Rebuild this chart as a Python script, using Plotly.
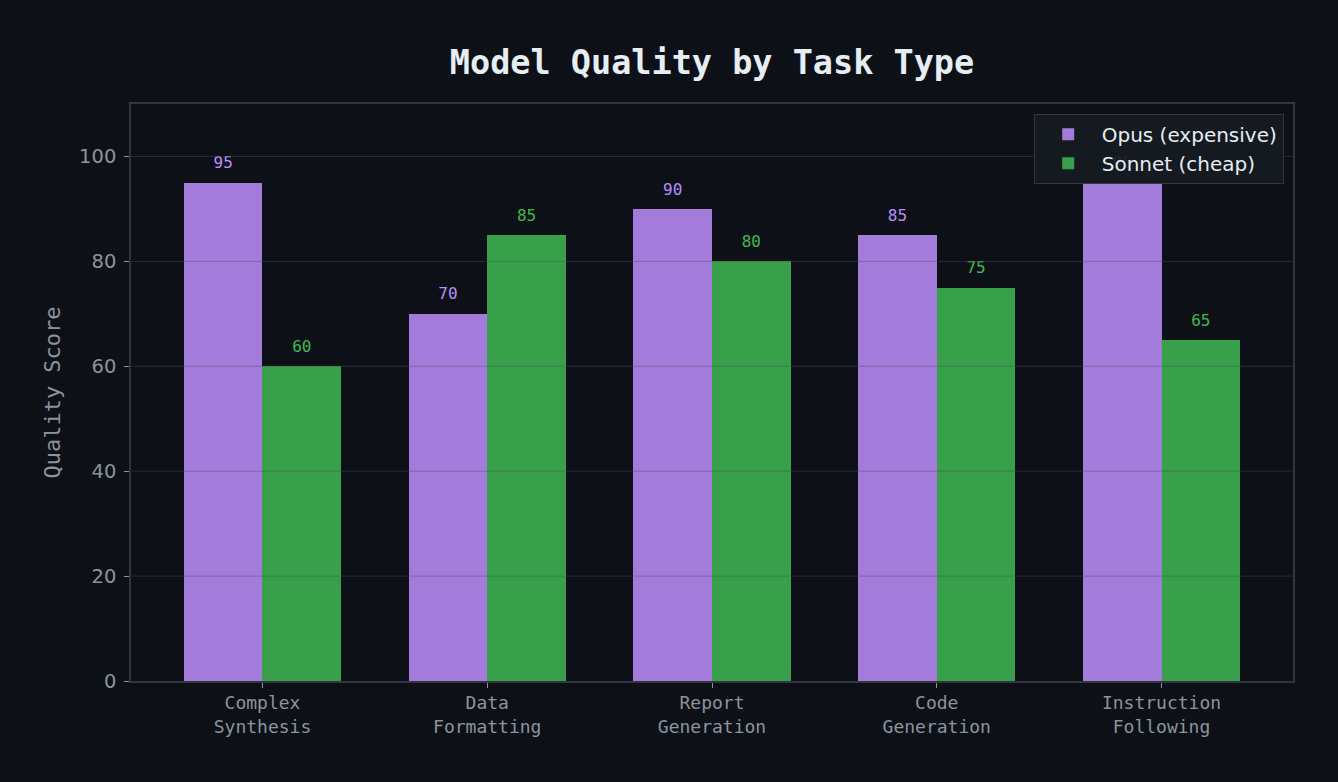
import plotly.graph_objects as go

categories = ["Complex<br>Synthesis", "Data<br>Formatting", "Report<br>Generation",
              "Code<br>Generation", "Instruction<br>Following"]
opus_scores = [95, 70, 90, 85, 95]
sonnet_scores = [60, 85, 80, 75, 65]
y_ticks = [0, 20, 40, 60, 80, 100]

BG = "#0d1117"
OPUS = "#a37cdb"
SONNET = "#38a04a"
OPUS_TXT = "#bc8cff"
SONNET_TXT = "#3fb950"
MONO = "DejaVu Sans Mono"
SANS = "DejaVu Sans"
w = 0.35

idx = list(range(len(categories)))
opus_x = [i - w / 2 for i in idx]
sonnet_x = [i + w / 2 for i in idx]

fig = go.Figure()
fig.add_trace(go.Bar(x=opus_x, y=opus_scores, width=w,
                     marker=dict(color=OPUS, line=dict(width=0)),
                     name="Opus (expensive)"))
fig.add_trace(go.Bar(x=sonnet_x, y=sonnet_scores, width=w,
                     marker=dict(color=SONNET, line=dict(width=0)),
                     name="Sonnet (cheap)"))

# value labels (invisible markers used only to lift the text above the bars)
for xs, vals, col in [(opus_x, opus_scores, OPUS_TXT), (sonnet_x, sonnet_scores, SONNET_TXT)]:
    fig.add_trace(go.Scatter(x=xs, y=vals, mode="markers+text",
                             text=[str(v) for v in vals], textposition="top center",
                             textfont=dict(family=MONO, size=16, color=col),
                             marker=dict(size=15, opacity=0),
                             showlegend=False, hoverinfo="skip", cliponaxis=False))

for t in y_ticks[1:]:
    fig.add_shape(type="line", xref="paper", x0=0, x1=1, yref="y", y0=t, y1=t,
                  line=dict(color="rgba(72,79,88,0.45)", width=1), layer="above")

fig.update_layout(
    width=1338, height=782,
    paper_bgcolor=BG, plot_bgcolor=BG,
    margin=dict(l=131, r=45, t=104, b=101),
    title=dict(text="<b>Model Quality by Task Type</b>", x=0.5, xanchor="center",
               xref="paper", y=1 - 62 / 782, yanchor="middle",
               font=dict(family=MONO, size=33.5, color="#e6edf3")),
    bargap=0, barmode="overlay",
    showlegend=True,
    legend=dict(x=0.992, y=0.983, xanchor="right", yanchor="top",
                bgcolor="rgba(22,27,34,0.92)", bordercolor="#30363d", borderwidth=1,
                itemwidth=57,
                font=dict(family=SANS, size=20, color="#e6edf3")),
    xaxis=dict(range=[-0.585, 4.585], tickmode="array", tickvals=idx,
               ticktext=categories, showgrid=False, zeroline=False,
               showline=True, linecolor="#30363d", linewidth=1.5, mirror=True,
               ticks="outside", ticklen=5, tickcolor="#8b949e",
               tickfont=dict(family=MONO, size=18, color="#8b949e")),
    yaxis=dict(range=[0, 110], tickmode="array", tickvals=y_ticks,
               showgrid=False, zeroline=False,
               showline=True, linecolor="#30363d", linewidth=1.5, mirror=True,
               ticks="outside", ticklen=5, tickcolor="#8b949e",
               ticklabelstandoff=4,
               tickfont=dict(family=SANS, size=19.5, color="#8b949e"),
               title=dict(text="Quality Score", standoff=12,
                          font=dict(family=MONO, size=22, color="#8b949e"))),
)

fig.write_html("out.html", config={"displayModeBar": False},
               post_script="document.body.style.margin='0';document.body.style.background='#0d1117';")
